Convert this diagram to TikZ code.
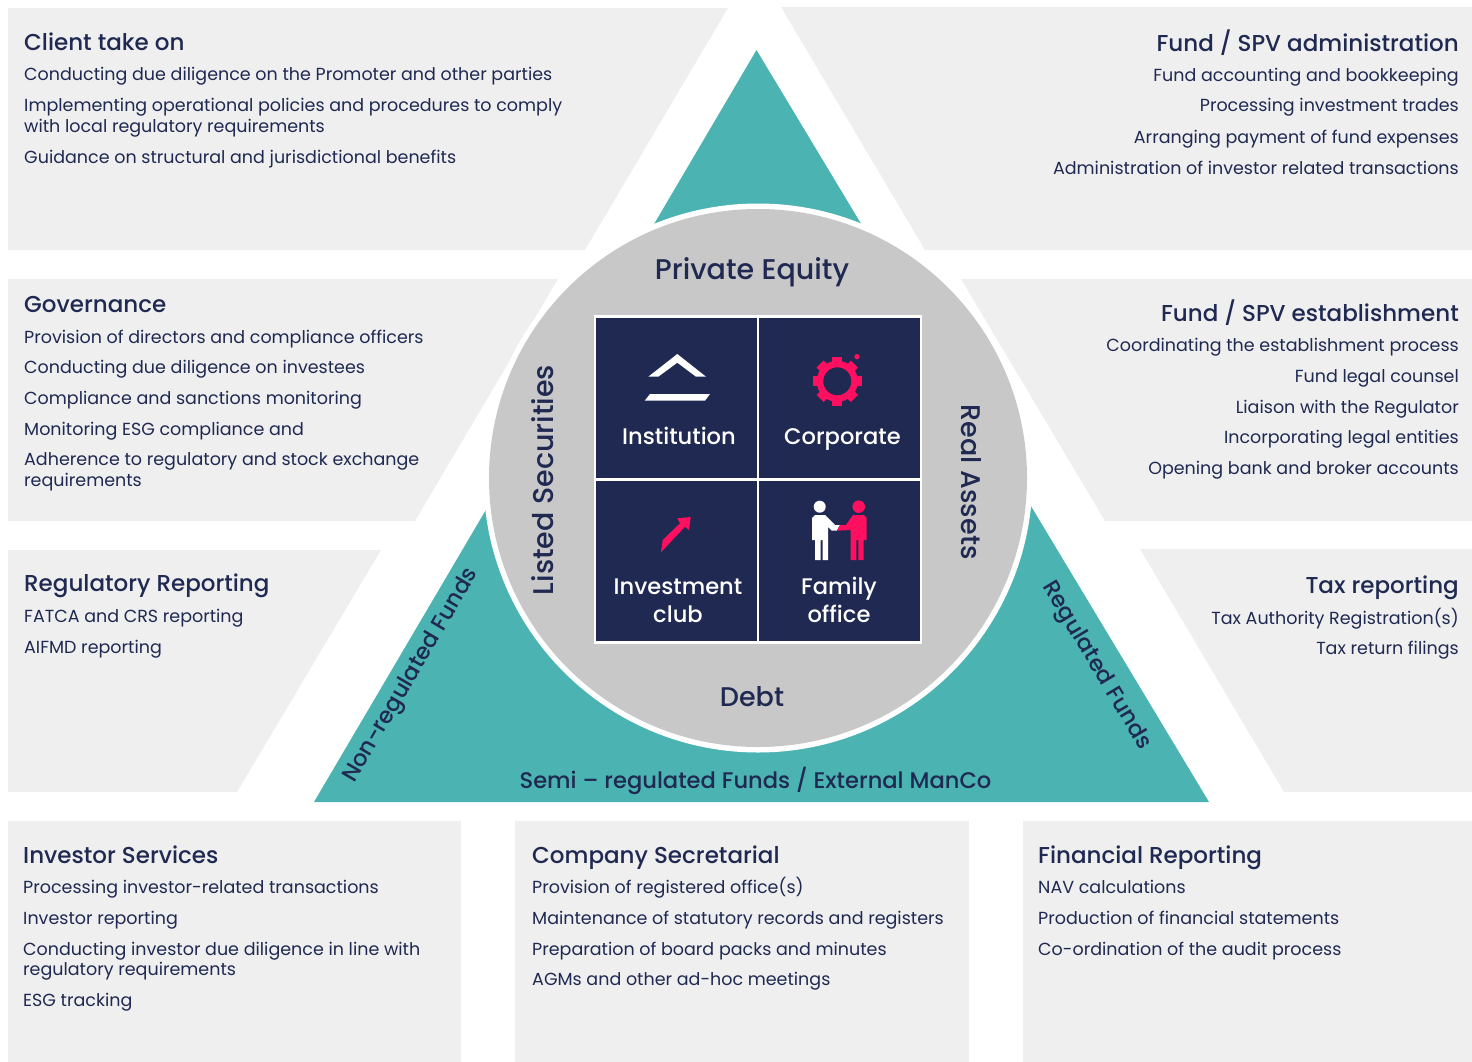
\documentclass[tikz,border=0pt]{standalone}
\usepackage{fontspec}
\setmainfont{Poppins}
\newfontfamily\headfont{Poppins Medium}
\definecolor{navy}{HTML}{1F2951}
\definecolor{teal}{HTML}{4BB3B2}
\definecolor{ring}{HTML}{C8C8C8}
\definecolor{pane}{HTML}{EFEFEF}
\definecolor{pink}{HTML}{FF0F5F}
\tikzset{%
  panel/.style = {fill=pane,draw=none},
  head/.style = {inner sep=0pt,text=navy,anchor=base west,
        font=\headfont\fontsize{23}{26}\selectfont},
  headr/.style = {head,anchor=base east},
  item/.style = {inner sep=0pt,text=navy,anchor=base west,align=left,
        font=\fontsize{17.5}{20.5}\selectfont},
  itemr/.style = {item,anchor=base east,align=right},
  cell/.style = {rectangle,draw=white,fill=navy,line width=2.6pt,
        minimum width=163pt,minimum height=163pt,inner sep=0pt},
  celltext/.style = {inner sep=0pt,text=white,align=center,
        font=\headfont\fontsize{22.6}{28}\selectfont},
  zone/.style = {inner sep=0pt,text=navy,
        font=\headfont\fontsize{28.5}{30}\selectfont},
  zonesmall/.style = {inner sep=0pt,text=navy,
        font=\headfont\fontsize{27}{30}\selectfont},
  fund/.style = {inner sep=0pt,text=navy,
        font=\headfont\fontsize{22.6}{26}\selectfont}
}
\begin{document}
\begin{tikzpicture}[x=1pt,y=-1pt]
    \useasboundingbox (0,0) rectangle (1472,1062);
    \fill[panel] (8,8) -- (728,8) -- (585,250) -- (8,250) -- cycle;
    \fill[panel] (781,7) -- (1472,7) -- (1472,250) -- (925,250) -- cycle;
    \fill[panel] (8,279) -- (558,279) -- (415,521) -- (8,521) -- cycle;
    \fill[panel] (961,279) -- (1472,279) -- (1472,521) -- (1105,521) -- cycle;
    \fill[panel] (8,550) -- (381,550) -- (237,792) -- (8,792) -- cycle;
    \fill[panel] (1140,549) -- (1472,549) -- (1472,792) -- (1284,792) -- cycle;
    \fill[panel] (8,821) rectangle (461,1062);
    \fill[panel] (515,821) rectangle (969,1062);
    \fill[panel] (1023,821) rectangle (1472,1062);

    \fill[teal] (756.5,50) -- (314,802) -- (1209,802) -- cycle;
    \fill[white] (758,478) circle (274.5);
    \fill[ring] (758,478) circle (269);

    \node[cell] (institution) at (676.5,398) {};
    \node[cell] (corporate) at (839.5,398) {};
    \node[cell] (investment) at (676.5,561) {};
    \node[cell] (family) at (839.5,561) {};

    \fill[white] (677.3,354) -- (706,376.7) -- (696,376.7) -- (677.3,362.7)
        -- (658.3,376.7) -- (648.3,376.7) -- cycle;
    \fill[white] (650,394) -- (710,394) -- (705,400.7) -- (644.7,400.7) -- cycle;

    \foreach \a in {0,45,...,315}
        \fill[pink,shift={(837.3,381.3)},rotate=\a] (-5,-24.3) rectangle (5,-15);
    \draw[pink,line width=6.5pt] (837.3,381.3) circle (17.3);
    \fill[pink] (857,356.7) circle (2.7);

    \fill[pink] (690.7,517) -- (689,530) -- (685,526.7) -- (661,552.3)
        -- (662.7,540) -- (680,523.3) -- (677.3,518.3) -- cycle;

    \fill[white] (819.7,506.7) circle (6);
    \fill[white] (815,515) -- (825,515) -- (835,525) -- (840,525) -- (836.7,530.7)
        -- (831.7,530.7) -- (828,527) -- (828,560) -- (822.7,560) -- (822.7,540)
        -- (820.7,540) -- (820.7,560) -- (815,560) -- (815,540) -- (812,540)
        -- (812,518) -- cycle;
    \fill[pink] (858.7,506.7) circle (6.3);
    \fill[pink] (853,515) -- (864,515) -- (866.7,518) -- (866.7,540) -- (863.7,540)
        -- (863.7,560) -- (858.3,560) -- (858.3,540) -- (856.3,540) -- (856.3,560)
        -- (850.7,560) -- (850.7,530) -- (837,530.7) -- (840,525) -- (846,525) -- cycle;

    \node[celltext] (institutionlabel) at (679,436) {Institution};
    \node[celltext] (corporatelabel) at (842.5,440) {Corporate};
    \node[celltext] (investmentlabel) at (678,601) {Investment\\club};
    \node[celltext] (familylabel) at (839,600) {Family\\office};

    \node[zone] (privateequity) at (752,272) {Private Equity};
    \node[zonesmall] (debt) at (752,697) {Debt};
    \node[zone,rotate=90] (listed) at (543,480) {Listed Securities};
    \node[zonesmall,rotate=-90] (realassets) at (971,482) {Real Assets};
    \node[fund] (semi) at (755.5,780.5) {Semi – regulated Funds / External ManCo};
    \node[fund,rotate=59.5] (nonregulated) at (411.5,676) {Non-regulated Funds};
    \node[fund,rotate=-59] (regulated) at (1096,666) {Regulated Funds};

    \node[head] (client) at (24,51) {Client take on};
    \node[item] (client1) at (24,81) {Conducting due diligence on the Promoter and other parties};
    \node[item] (client2) at (24,112) {Implementing operational policies and procedures to comply};
    \node[item] (client3) at (24,132) {with local regulatory requirements};
    \node[item] (client4) at (24,163) {Guidance on structural and jurisdictional benefits};

    \node[headr] (admin) at (1459,52) {Fund / SPV administration};
    \node[itemr] (admin1) at (1459,82) {Fund accounting and bookkeeping};
    \node[itemr] (admin2) at (1459,112) {Processing investment trades};
    \node[itemr] (admin3) at (1459,143) {Arranging payment of fund expenses};
    \node[itemr] (admin4) at (1459,174) {Administration of investor related transactions};

    \node[head] (governance) at (24,312) {Governance};
    \node[item] (governance1) at (24,343) {Provision of directors and compliance officers};
    \node[item] (governance2) at (24,373) {Conducting due diligence on investees};
    \node[item] (governance3) at (24,404) {Compliance and sanctions monitoring};
    \node[item] (governance4) at (24,435) {Monitoring ESG compliance and};
    \node[item] (governance5) at (24,465) {Adherence to regulatory and stock exchange};
    \node[item] (governance6) at (24,486) {requirements};

    \node[headr] (establish) at (1459,321) {Fund / SPV establishment};
    \node[itemr] (establish1) at (1459,351) {Coordinating the establishment process};
    \node[itemr] (establish2) at (1459,382) {Fund legal counsel};
    \node[itemr] (establish3) at (1459,413) {Liaison with the Regulator};
    \node[itemr] (establish4) at (1459,443) {Incorporating legal entities};
    \node[itemr] (establish5) at (1459,474) {Opening bank and broker accounts};

    \node[head] (regulatory) at (24,591) {Regulatory Reporting};
    \node[item] (regulatory1) at (24,622) {FATCA and CRS reporting};
    \node[item] (regulatory2) at (24,653) {AIFMD reporting};

    \node[headr] (tax) at (1459,593) {Tax reporting};
    \node[itemr] (tax1) at (1459,624) {Tax Authority Registration(s)};
    \node[itemr] (tax2) at (1459,654) {Tax return filings};

    \node[head] (investor) at (23,863) {Investor Services};
    \node[item] (investor1) at (23,893) {Processing investor-related transactions};
    \node[item] (investor2) at (23,924) {Investor reporting};
    \node[item] (investor3) at (23,955) {Conducting investor due diligence in line with};
    \node[item] (investor4) at (23,975) {regulatory requirements};
    \node[item] (investor5) at (23,1006) {ESG tracking};

    \node[head] (secretarial) at (532,863) {Company Secretarial};
    \node[item] (secretarial1) at (532,893) {Provision of registered office(s)};
    \node[item] (secretarial2) at (532,924) {Maintenance of statutory records and registers};
    \node[item] (secretarial3) at (532,955) {Preparation of board packs and minutes};
    \node[item] (secretarial4) at (532,985) {AGMs and other ad-hoc meetings};

    \node[head] (financial) at (1038,863) {Financial Reporting};
    \node[item] (financial1) at (1038,893) {NAV calculations};
    \node[item] (financial2) at (1038,924) {Production of financial statements};
    \node[item] (financial3) at (1038,955) {Co-ordination of the audit process};
\end{tikzpicture}
\end{document}
